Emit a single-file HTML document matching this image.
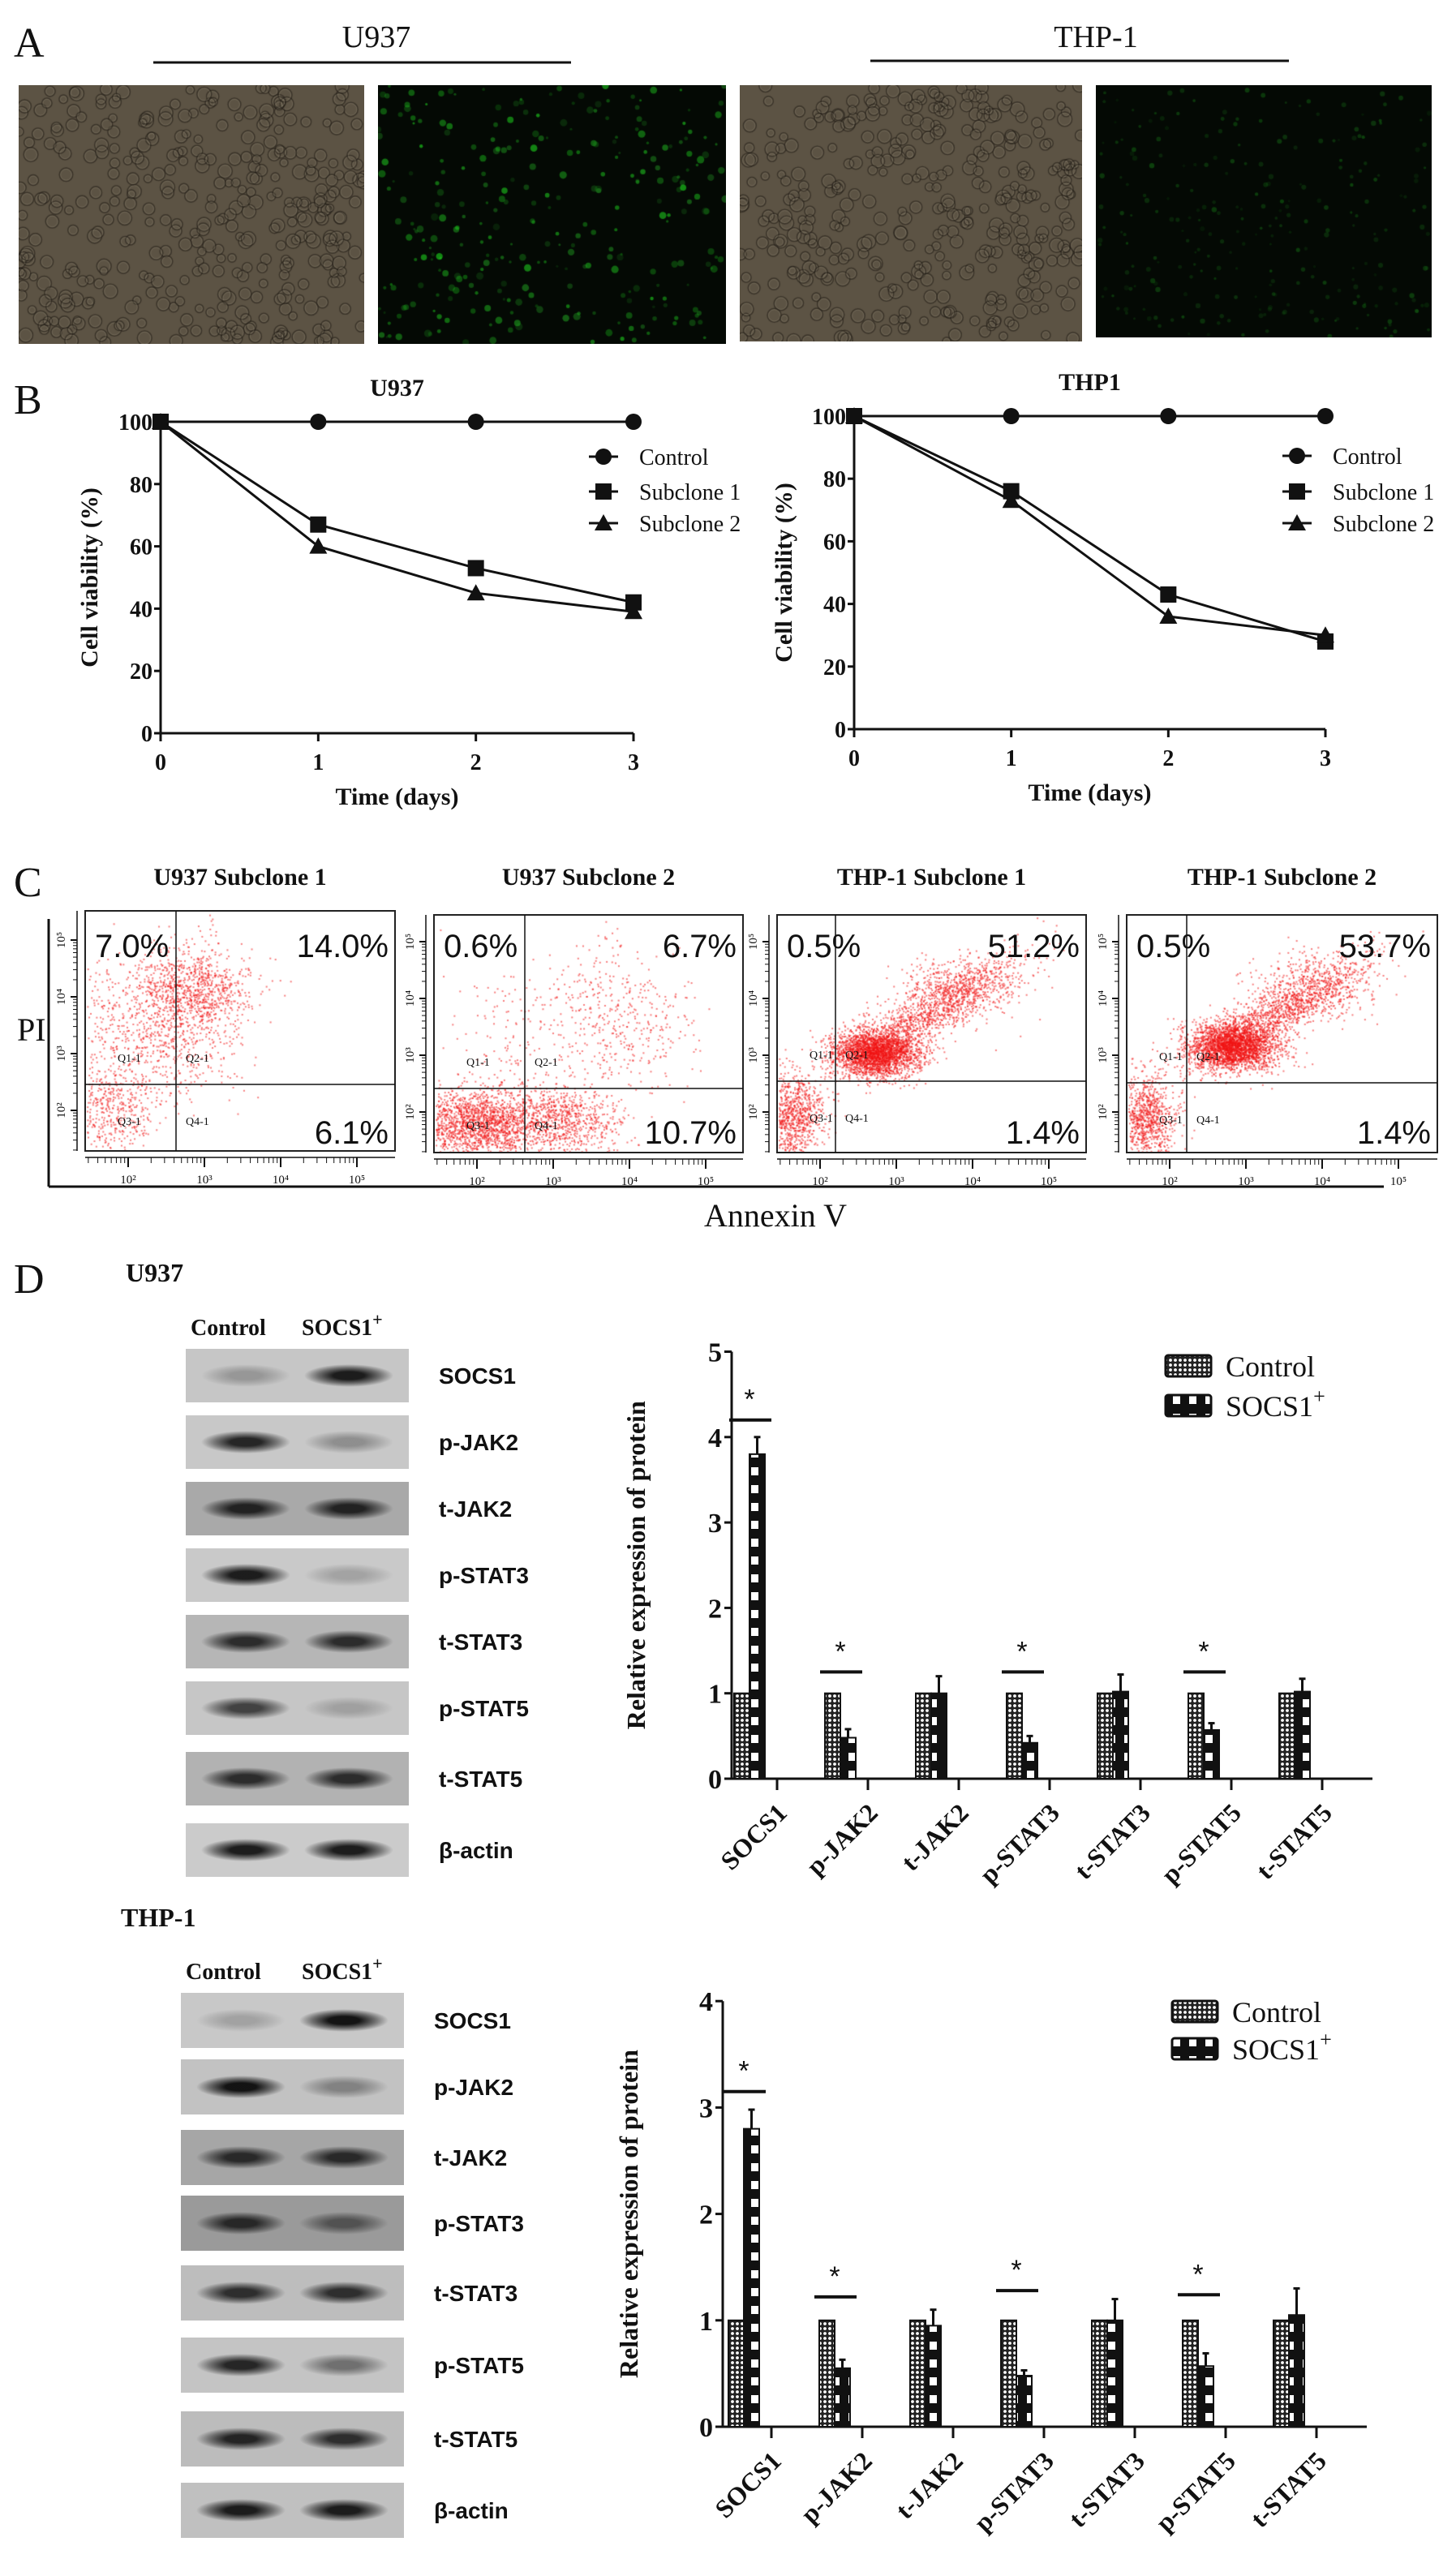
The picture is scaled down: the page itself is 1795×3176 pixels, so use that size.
<!DOCTYPE html>
<html><head><meta charset="utf-8">
<style>
html,body{margin:0;padding:0;background:#fff;}
body{width:1795px;height:3176px;position:relative;overflow:hidden;}
canvas{position:absolute;}
.blot{position:absolute;overflow:hidden;}
.band{position:absolute;border-radius:50%;}
svg{position:absolute;left:0;top:0;}
</style></head>
<body>
<canvas id="m1" width="426" height="319" style="left:23px;top:105px"></canvas>
<canvas id="m2" width="429" height="319" style="left:466px;top:105px"></canvas>
<canvas id="m3" width="422" height="316" style="left:912px;top:105px"></canvas>
<canvas id="m4" width="414" height="311" style="left:1351px;top:105px"></canvas>
<canvas id="f1" width="382" height="296" style="left:105px;top:1123px"></canvas>
<canvas id="f2" width="381" height="293" style="left:535px;top:1128px"></canvas>
<canvas id="f3" width="381" height="293" style="left:958px;top:1128px"></canvas>
<canvas id="f4" width="383" height="293" style="left:1389px;top:1128px"></canvas>
<div id="blots"></div>
<svg id="s" width="1795" height="3176" xmlns="http://www.w3.org/2000/svg">
<defs>
<pattern id="pCtrl" width="6" height="6" patternUnits="userSpaceOnUse"><rect width="6" height="6" fill="#222"/><circle cx="3" cy="3" r="1.9" fill="#fff"/></pattern>
<pattern id="pSocs" width="20" height="22" patternUnits="userSpaceOnUse"><rect width="20" height="22" fill="#111"/><rect x="6" y="5" width="9" height="10" fill="#fff"/></pattern>
</defs>
</svg>
<script>
// ---------- data ----------
const days=[0,1,2,3];
const dayTicks=["0","1","2","3"];
const viabTicks=[0,20,40,60,80,100];
const u937Control=[100,100,100,100];
const u937Sub1=[100,67,53,42];
const u937Sub2=[100,60,45,39];
const thp1Control=[100,100,100,100];
const thp1Sub1=[100,76,43,28];
const thp1Sub2=[100,73,36,30];

const flowTitles=["U937 Subclone 1","U937 Subclone 2","THP-1 Subclone 1","THP-1 Subclone 2"];
const flowQ1=["7.0%","0.6%","0.5%","0.5%"];
const flowQ2=["14.0%","6.7%","51.2%","53.7%"];
const flowQ4=["6.1%","10.7%","1.4%","1.4%"];

const proteins=["SOCS1","p-JAK2","t-JAK2","p-STAT3","t-STAT3","p-STAT5","t-STAT5"];
const u937Ctrl=[1,1,1,1,1,1,1];
const u937Socs=[3.8,0.48,1.0,0.42,1.02,0.57,1.02];
const u937SocsErr=[0.2,0.1,0.2,0.08,0.2,0.08,0.15];
const u937Sig=[4.2,1.25,null,1.25,null,1.25,null];
const thpCtrl=[1,1,1,1,1,1,1];
const thpSocs=[2.8,0.55,0.95,0.48,1.0,0.57,1.05];
const thpSocsErr=[0.18,0.08,0.15,0.05,0.2,0.12,0.25];
const thpSig=[3.15,1.22,null,1.28,null,1.24,null];
const u937Ticks=[0,1,2,3,4,5];
const thpTicks=[0,1,2,3,4];

const blotLabels=["SOCS1","p-JAK2","t-JAK2","p-STAT3","t-STAT3","p-STAT5","t-STAT5","β-actin"];
const u937BandCtrl=[0.25,0.85,0.85,0.9,0.8,0.7,0.8,0.9];
const u937BandSocs=[0.9,0.3,0.85,0.2,0.8,0.2,0.8,0.9];
const thpBandCtrl=[0.2,0.95,0.8,0.8,0.8,0.85,0.85,0.9];
const thpBandSocs=[0.95,0.35,0.8,0.5,0.8,0.45,0.8,0.9];

// ---------- helpers ----------
const NS="http://www.w3.org/2000/svg";
const svg=document.getElementById('s');
function mk(tag,attrs,name){
  const e=document.createElementNS(NS,tag);
  for(const k in attrs) e.setAttribute(k,attrs[k]);
  
  
  svg.appendChild(e);return e;
}
function txt(x,y,s,size,name,opt){
  opt=opt||{};
  const t=mk('text',{x:x,y:y,'font-size':size,'font-family':opt.ff||'"Liberation Serif", serif','font-weight':opt.fw||'normal','text-anchor':opt.anchor||'start',fill:'#111'},name);
  if(opt.tr) t.setAttribute('transform',opt.tr);
  t.textContent=s;return t;
}
function line(x1,y1,x2,y2,w,name){return mk('line',{x1:x1,y1:y1,x2:x2,y2:y2,stroke:'#111','stroke-width':w},name);}
let seed=12345;
function rnd(){seed|=0;seed=seed+0x6D2B79F5|0;let t=Math.imul(seed^seed>>>15,1|seed);t=t+Math.imul(t^t>>>7,61|t)^t;return((t^t>>>14)>>>0)/4294967296;}
function gauss(){return Math.sqrt(-2*Math.log(rnd()+1e-9))*Math.cos(2*Math.PI*rnd());}

// ---------- panel labels ----------
txt(17,70,"A",52,"panel-label-a");
txt(17,510,"B",52,"panel-label-b");
txt(17,1105,"C",52,"panel-label-c");
txt(17,1594,"D",52,"panel-label-d");
txt(464,58,"U937",38,"a-u937-title",{anchor:'middle'});
txt(1351,58,"THP-1",38,"a-thp1-title",{anchor:'middle'});
line(189,77,704,77,3,"a-u937-bracket");
line(1073,75,1589,75,3,"a-thp1-bracket");

// ---------- microscopy ----------
function bright(id){
  const c=document.getElementById(id),g=c.getContext('2d');
  g.fillStyle='#5c5344';g.fillRect(0,0,c.width,c.height);
  for(let i=0;i<380;i++){
    const x=rnd()*c.width,y=rnd()*c.height,r=5+rnd()*4;
    g.beginPath();g.arc(x,y,r,0,7);g.strokeStyle='rgba(35,30,24,0.6)';g.lineWidth=1.4;g.stroke();
    g.beginPath();g.arc(x,y,r-1.5,0,7);g.strokeStyle='rgba(150,140,120,0.35)';g.lineWidth=1;g.stroke();
  }
}
function fluor(id,n,br){
  const c=document.getElementById(id),g=c.getContext('2d');
  g.fillStyle='#040904';g.fillRect(0,0,c.width,c.height);
  for(let i=0;i<n;i++){
    const x=rnd()*c.width,y=rnd()*c.height,r=1.5+rnd()*3.5*br,a=(0.2+rnd()*0.5)*br;
    g.beginPath();g.arc(x,y,r,0,7);g.fillStyle='rgba(30,'+Math.round(120+110*br*rnd())+',30,'+a+')';g.fill();
  }
}
bright('m1');fluor('m2',300,0.9);bright('m3');fluor('m4',260,0.5);

// ---------- line charts ----------
function lineChart(o){
  const X=d=>o.x0+d*(o.x3-o.x0)/3, Y=v=>o.y0-v*(o.y0-o.y100)/100;
  txt((o.x0+o.x3)/2,o.y100-32,o.title,30,o.pre+"-title",{anchor:'middle',fw:'bold'});
  line(o.x0,o.y100-4,o.x0,o.y0,3,o.pre+"-y-axis");
  line(o.x0,o.y0,o.x3,o.y0,3,o.pre+"-x-axis");
  viabTicks.forEach(v=>{line(o.x0-8,Y(v),o.x0,Y(v),3,o.pre+"-y-tick");txt(o.x0-10,Y(v)+10,String(v),28,o.pre+"-y-tick-label",{anchor:'end',fw:'bold'});});
  days.forEach((d,i)=>{line(X(d),o.y0,X(d),o.y0+10,3,o.pre+"-x-tick");txt(X(d),o.y0+45,dayTicks[i],28,o.pre+"-x-tick-label",{anchor:'middle',fw:'bold'});});
  txt((o.x0+o.x3)/2,o.y0+88,"Time (days)",30,o.pre+"-x-axis-title",{anchor:'middle',fw:'bold'});
  const ty=(o.y0+o.y100)/2;
  txt(o.ytx,ty,"Cell viability (%)",30,o.pre+"-y-axis-title",{anchor:'middle',fw:'bold',tr:'rotate(-90 '+o.ytx+' '+ty+')'});
  const series=[[o.c,'circle'],[o.s1,'square'],[o.s2,'tri']];
  series.forEach(([vals,m],si)=>{
    mk('polyline',{points:days.map((d,i)=>X(d)+','+Y(vals[i])).join(' '),fill:'none',stroke:'#111','stroke-width':3},o.pre+"-line-"+si);
    days.forEach((d,i)=>marker(m,X(d),Y(vals[i]),o.pre+"-point"));
  });
  const names=["Control","Subclone 1","Subclone 2"],ms=['circle','square','tri'];
  names.forEach((n,i)=>{const ly=o.ly[i];line(o.lx-18,ly,o.lx+18,ly,3,o.pre+"-legend-line");marker(ms[i],o.lx,ly,o.pre+"-legend-marker");txt(o.lx+44,ly+10,n,28,o.pre+"-legend-"+n.toLowerCase().replace(' ','-'));});
}
function marker(m,x,y,name){
  if(m==='circle')mk('circle',{cx:x,cy:y,r:10,fill:'#111'},name);
  else if(m==='square')mk('rect',{x:x-10,y:y-10,width:20,height:20,fill:'#111'},name);
  else mk('polygon',{points:(x)+','+(y-11)+' '+(x-11)+','+(y+9)+' '+(x+11)+','+(y+9),fill:'#111'},name);
}
lineChart({pre:'b-u937',title:'U937',x0:198,x3:781,y0:904,y100:520,c:u937Control,s1:u937Sub1,s2:u937Sub2,ytx:120,lx:744,ly:[563,606,645]});
lineChart({pre:'b-thp1',title:'THP1',x0:1053,x3:1634,y0:899,y100:513,c:thp1Control,s1:thp1Sub1,s2:thp1Sub2,ytx:976,lx:1599,ly:[562,606,645]});

// ---------- flow cytometry ----------
const boxes=[[105,1123,382,296,217,1337],[535,1128,381,293,647,1342],[958,1128,381,293,1030,1333],[1389,1128,383,293,1463,1335]];
const clusters=[
 [[0.35,0.33,0.09,0.09,900],[0.18,0.45,0.12,0.14,500],[0.08,0.82,0.07,0.09,450],[0.3,0.6,0.1,0.1,250]],
 [[0.15,0.87,0.14,0.07,2200],[0.45,0.87,0.08,0.07,500],[0.6,0.45,0.12,0.16,450],[0.25,0.5,0.1,0.15,120]],
 [[0.32,0.58,0.07,0.05,2600],[0.5,0.4,0.13,0.08,1200],[0.05,0.85,0.05,0.09,900],[0.6,0.3,0.1,0.07,400]],
 [[0.34,0.55,0.07,0.05,2600],[0.5,0.4,0.13,0.08,1200],[0.06,0.85,0.05,0.09,900],[0.6,0.3,0.1,0.07,400]]];
boxes.forEach((b,i)=>{
  const c=document.getElementById('f'+(i+1)),g=c.getContext('2d');
  g.fillStyle='rgba(240,20,20,0.55)';
  clusters[i].forEach(cl=>{
    for(let k=0;k<cl[4];k++){
      let x=cl[0]+gauss()*cl[2],y=cl[1]+gauss()*cl[3];
      if(i>=2&&cl===clusters[i][1]){const t=gauss()*0.5;x=cl[0]+t*0.28+gauss()*0.05;y=cl[1]-t*0.22+gauss()*0.05;}
      if(x<0.005||x>0.995||y<0.005||y>0.995)continue;
      g.fillRect(x*c.width,y*c.height,2,2);
    }
  });
  const [bx,by,bw,bh,qx,qy]=b;
  mk('rect',{x:bx,y:by,width:bw,height:bh,fill:'none',stroke:'#222','stroke-width':2},"flow-box-"+(i+1));
  line(qx,by,qx,by+bh,1.5,"flow-quadrant-vertical");
  line(bx,qy,bx+bw,qy,1.5,"flow-quadrant-horizontal");
  const cx=bx+bw/2;
  txt(cx,1091,flowTitles[i],30,"flow-title-"+(i+1),{anchor:'middle',fw:'bold'});
  const pf={ff:'"Liberation Sans Narrow","Liberation Sans",sans-serif'};
  txt(bx+12,1180,flowQ1[i],40,"flow-q1-percent",pf);
  txt(bx+bw-8,1180,flowQ2[i],40,"flow-q2-percent",Object.assign({anchor:'end'},pf));
  txt(bx+bw-8,1410,flowQ4[i],40,"flow-q4-percent",Object.assign({anchor:'end'},pf));
  ["Q1-1","Q2-1"].forEach((q,j)=>txt(j?qx+12:bx+40,qy-28,q,14,"flow-gate-label"));
  ["Q3-1","Q4-1"].forEach((q,j)=>txt(j?qx+12:bx+40,qy+50,q,14,"flow-gate-label"));
  line(bx,by+bh+8,bx+bw,by+bh+8,1.5,"flow-x-axis");
  line(bx-10,by,bx-10,by+bh,1.5,"flow-y-axis");
  for(let d=0;d<4;d++){
    const tx=bx+53+d*94;
    line(tx,by+bh+8,tx,by+bh+20,2,"flow-x-major-tick");
    txt(tx,by+bh+40,"10"+["²","³","⁴","⁵"][d],15,"flow-x-tick-label",{anchor:'middle'});
    for(let m=2;m<10;m++){const mx=tx-94+94*Math.log10(m);if(mx>bx)line(mx,by+bh+8,mx,by+bh+15,1,"flow-x-minor-tick");}
    const ty=by+bh-50-d*70;
    line(bx-18,ty,bx-10,ty,2,"flow-y-major-tick");
    txt(bx-25,ty,"10"+["²","³","⁴","⁵"][d],15,"flow-y-tick-label",{anchor:'middle',tr:'rotate(-90 '+(bx-25)+' '+ty+')'});
    for(let m=2;m<10;m++){const my=ty+70-70*Math.log10(m);line(bx-15,my,bx-10,my,1,"flow-y-minor-tick");}
  }
});
txt(21,1283,"PI",40,"flow-y-axis-title");
line(60,1133,60,1463,3,"flow-shared-y-line");
line(60,1463,1706,1463,3,"flow-shared-x-line");
txt(956,1512,"Annexin V",40,"flow-x-axis-title",{anchor:'middle'});

// ---------- western blots ----------
const bd=document.getElementById('blots');
function blots(x,tops,h,ctrl,socs,bgs,pre){
  tops.forEach((t,i)=>{
    const d=document.createElement('div');d.className='blot';
    
    
    d.style.cssText='left:'+x+'px;top:'+t+'px;width:275px;height:'+h+'px;background:'+bgs[i];
    [[0.27,ctrl[i]],[0.73,socs[i]]].forEach(([fx,a])=>{
      const b=document.createElement('div');b.className='band';
      
      
      b.style.cssText='left:'+(fx*275-55)+'px;top:'+(h/2-14)+'px;width:110px;height:28px;background:radial-gradient(ellipse closest-side,rgba(10,10,10,'+a+') 35%,rgba(10,10,10,'+(a*0.5)+') 70%,rgba(10,10,10,0) 100%)';
      d.appendChild(b);
    });
    bd.appendChild(d);
    txt(x+312,t+h/2+10,blotLabels[i],28,pre+'-blot-label',{ff:'"Liberation Sans",sans-serif',fw:'bold'});
  });
}
const u937Bg=['#c6c6c6','#c8c8c8','#a9a9a9','#c9c9c9','#b6b6b6','#c6c6c6','#b2b2b2','#cbcbcb'];
const thpBg=['#c8c8c8','#c2c2c2','#a6a6a6','#9a9a9a','#bdbdbd','#c4c4c4','#bcbcbc','#c0c0c0'];
blots(229,[1663,1745,1827,1909,1991,2073,2160,2248],66,u937BandCtrl,u937BandSocs,u937Bg,'d-u937');
blots(223,[2457,2539,2626,2707,2793,2882,2973,3061],68,thpBandCtrl,thpBandSocs,thpBg,'d-thp1');
txt(155,1580,"U937",32,"d-u937-label",{fw:'bold'});
txt(149,2375,"THP-1",32,"d-thp1-label",{fw:'bold'});
[[1646,235,372],[2440,229,372]].forEach(([y,cx,sx],k)=>{
  txt(cx,y,"Control",28,"blot-header-control",{fw:'bold'});
  const t=txt(sx,y,"SOCS1",28,"blot-header-socs1",{fw:'bold'});
  const sp=document.createElementNS(NS,'tspan');sp.setAttribute('dy','-12');sp.setAttribute('font-size','22');sp.textContent='+';t.appendChild(sp);
});

// ---------- bar charts ----------
function barChart(o){
  const Y=v=>o.y0-v*o.unit;
  line(o.ax,Y(o.ticks[o.ticks.length-1]),o.ax,o.y0,3,o.pre+"-y-axis");
  line(o.ax,o.y0,o.xend,o.y0,3,o.pre+"-x-axis");
  o.ticks.forEach(v=>{line(o.ax-9,Y(v),o.ax,Y(v),3,o.pre+"-y-tick");txt(o.ax-12,Y(v)+12,String(v),34,o.pre+"-y-tick-label",{anchor:'end',fw:'bold'});});
  const ty=(o.y0+Y(o.ticks[o.ticks.length-1]))/2;
  txt(o.ytx,ty,"Relative expression of protein",32,o.pre+"-y-axis-title",{anchor:'middle',fw:'bold',tr:'rotate(-90 '+o.ytx+' '+ty+')'});
  proteins.forEach((p,i)=>{
    const gx=o.bx+i*o.pitch;
    mk('rect',{x:gx,y:Y(o.ctrl[i]),width:o.bw,height:o.ctrl[i]*o.unit,fill:'url(#pCtrl)',stroke:'#111','stroke-width':2},o.pre+"-bar-control-"+p);
    const sx=gx+o.bw;
    line(sx+o.bw/2,Y(o.socs[i]),sx+o.bw/2,Y(o.socs[i]+o.err[i]),3,o.pre+"-error-bar");
    line(sx+o.bw/2-4,Y(o.socs[i]+o.err[i]),sx+o.bw/2+4,Y(o.socs[i]+o.err[i]),3,o.pre+"-error-cap");
    mk('rect',{x:sx,y:Y(o.socs[i]),width:o.bw,height:o.socs[i]*o.unit,fill:'url(#pSocs)',stroke:'#111','stroke-width':2},o.pre+"-bar-socs1-"+p);
    const tx=gx+53;
    line(tx,o.y0,tx,o.y0+14,3,o.pre+"-x-tick");
    txt(tx+14,o.y0+44,p,32,o.pre+"-x-label",{anchor:'end',fw:'bold',tr:'rotate(-45 '+(tx+14)+' '+(o.y0+44)+')'});
    if(o.sig[i]!=null){
      line(gx-6,Y(o.sig[i]),gx+2*o.bw+8,Y(o.sig[i]),4,o.pre+"-significance-line");
      txt(gx+o.bw,Y(o.sig[i])-14,"*",34,o.pre+"-significance-star",{anchor:'middle',ff:'"Liberation Sans",sans-serif'});
    }
  });
  mk('rect',{x:o.lx,y:o.ly[0]-13,width:56,height:26,fill:'url(#pCtrl)',stroke:'#111','stroke-width':3,rx:3},o.pre+"-legend-swatch-control");
  txt(o.lx+74,o.ly[0]+13,"Control",36,o.pre+"-legend-control");
  mk('rect',{x:o.lx,y:o.ly[1]-13,width:56,height:26,fill:'url(#pSocs)',stroke:'#111','stroke-width':3,rx:3},o.pre+"-legend-swatch-socs1");
  const t=txt(o.lx+74,o.ly[1]+13,"SOCS1",36,o.pre+"-legend-socs1");
  const sp=document.createElementNS(NS,'tspan');sp.setAttribute('dy','-16');sp.setAttribute('font-size','26');sp.textContent='+';t.appendChild(sp);
}
barChart({pre:'d-u937-chart',ax:902,xend:1692,y0:2193,unit:105.3,ticks:u937Ticks,bx:905,pitch:112,bw:19,ctrl:u937Ctrl,socs:u937Socs,err:u937SocsErr,sig:u937Sig,ytx:795,lx:1437,ly:[1684,1733]});
barChart({pre:'d-thp1-chart',ax:891,xend:1685,y0:2992,unit:131.2,ticks:thpTicks,bx:898,pitch:112,bw:19,ctrl:thpCtrl,socs:thpSocs,err:thpSocsErr,sig:thpSig,ytx:786,lx:1445,ly:[2480,2526]});
</script>
</body></html>
